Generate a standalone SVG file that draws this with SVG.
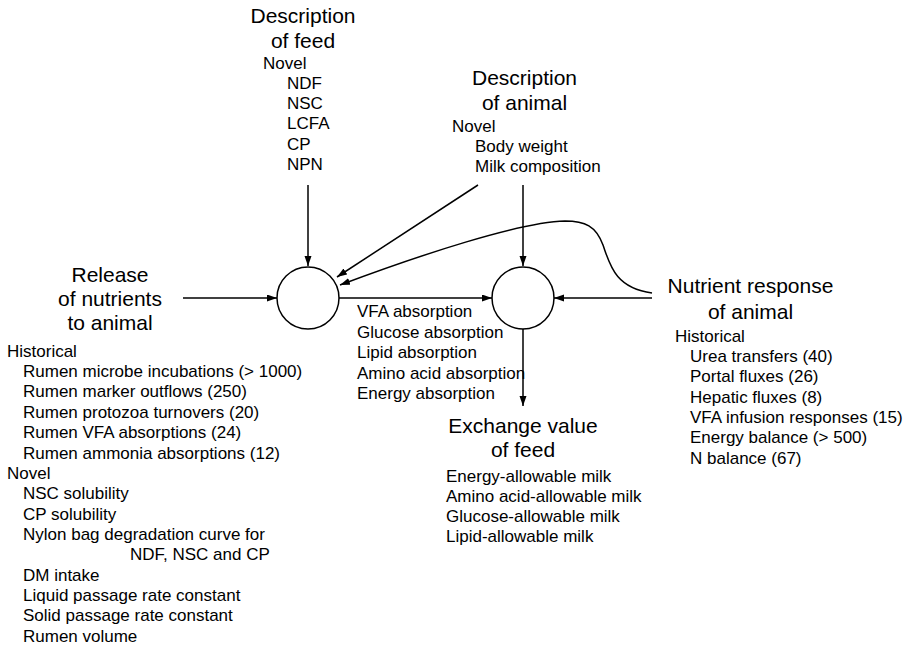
<svg xmlns="http://www.w3.org/2000/svg" width="910" height="646" viewBox="0 0 910 646">
<defs>
<marker id="ah" markerUnits="userSpaceOnUse" markerWidth="11" markerHeight="8" refX="10" refY="3.5" orient="auto">
<path d="M0,0 L10,3.5 L0,7 z" fill="#000"/>
</marker>
<style>
text{font-family:"Liberation Sans",Arial,sans-serif;fill:#000}
.h{font-size:21px;text-anchor:middle}
.b{font-size:17px}
.ln{fill:none;stroke:#000;stroke-width:1.5}
.ar{marker-end:url(#ah)}
.node{fill:#fff;stroke:#000;stroke-width:1.5}
</style>
</defs>
<rect width="910" height="646" fill="#fff"/>

<g id="connectors">
<path class="ln ar" d="M308,185 L308,266"/>
<path class="ln ar" d="M478,185 L337,277"/>
<path class="ln ar" d="M523,185 L523,266"/>
<path class="ln ar" d="M652,293 C615,288 610,265 603,245 C596,226 585,221 565,221 C520,222 420,255 340,285"/>
<path class="ln ar" d="M183,298 L277,298"/>
<path class="ln ar" d="M339,298 L492,298"/>
<path class="ln ar" d="M652,298 L554,298"/>
<path class="ln ar" d="M523,329 L523,406"/>
</g>

<g id="circle1"><circle class="node" cx="308" cy="298" r="31"/></g>
<g id="circle2"><circle class="node" cx="523" cy="298" r="31"/></g>

<g id="feed">
<text class="h" x="303" y="23">Description</text>
<text class="h" x="303" y="48">of feed</text>
<text class="b" x="263" y="68.5">Novel</text>
<text class="b" x="287" y="88.8">NDF</text>
<text class="b" x="287" y="109.1">NSC</text>
<text class="b" x="287" y="129.4">LCFA</text>
<text class="b" x="287" y="149.7">CP</text>
<text class="b" x="287" y="170">NPN</text>
</g>

<g id="animal">
<text class="h" x="524.5" y="85">Description</text>
<text class="h" x="524.5" y="110">of animal</text>
<text class="b" x="452" y="131.7">Novel</text>
<text class="b" x="475" y="151.7">Body weight</text>
<text class="b" x="475" y="171.7">Milk composition</text>
</g>

<g id="release">
<text class="h" x="110" y="282">Release</text>
<text class="h" x="110" y="306">of nutrients</text>
<text class="h" x="110" y="330">to animal</text>
<text class="b" x="7" y="356.7">Historical</text>
<text class="b" x="23" y="377.1">Rumen microbe incubations (&gt; 1000)</text>
<text class="b" x="23" y="397.4">Rumen marker outflows (250)</text>
<text class="b" x="23" y="417.8">Rumen protozoa turnovers (20)</text>
<text class="b" x="23" y="438.1">Rumen VFA absorptions (24)</text>
<text class="b" x="23" y="458.5">Rumen ammonia absorptions (12)</text>
<text class="b" x="7" y="478.9">Novel</text>
<text class="b" x="23" y="499.2">NSC solubility</text>
<text class="b" x="23" y="519.6">CP solubility</text>
<text class="b" x="23" y="539.9">Nylon bag degradation curve for</text>
<text class="b" x="130" y="560.3">NDF, NSC and CP</text>
<text class="b" x="23" y="580.7">DM intake</text>
<text class="b" x="23" y="601">Liquid passage rate constant</text>
<text class="b" x="23" y="621.4">Solid passage rate constant</text>
<text class="b" x="23" y="641.7">Rumen volume</text>
</g>

<g id="absorption">
<text class="b" x="357" y="317.3">VFA absorption</text>
<text class="b" x="357" y="337.8">Glucose absorption</text>
<text class="b" x="357" y="358.3">Lipid absorption</text>
<text class="b" x="357" y="378.8">Amino acid absorption</text>
<text class="b" x="357" y="399.3">Energy absorption</text>
</g>

<g id="exchange">
<text class="h" x="523" y="433.3">Exchange value</text>
<text class="h" x="523" y="457.3">of feed</text>
<text class="b" x="446" y="481.7">Energy-allowable milk</text>
<text class="b" x="446" y="501.7">Amino acid-allowable milk</text>
<text class="b" x="446" y="521.7">Glucose-allowable milk</text>
<text class="b" x="446" y="541.7">Lipid-allowable milk</text>
</g>

<g id="response">
<text class="h" x="750.5" y="293.3">Nutrient response</text>
<text class="h" x="750.5" y="319.3">of animal</text>
<text class="b" x="675" y="341.7">Historical</text>
<text class="b" x="690" y="362">Urea transfers (40)</text>
<text class="b" x="690" y="382.3">Portal fluxes (26)</text>
<text class="b" x="690" y="402.6">Hepatic fluxes (8)</text>
<text class="b" x="690" y="422.9">VFA infusion responses (15)</text>
<text class="b" x="690" y="443.2">Energy balance (&gt; 500)</text>
<text class="b" x="690" y="463.5">N balance (67)</text>
</g>
</svg>
